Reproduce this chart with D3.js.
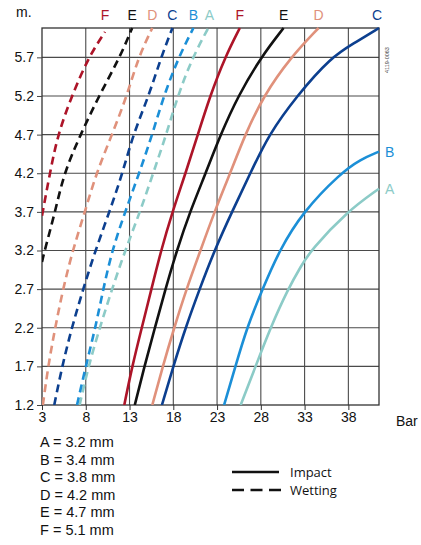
<!DOCTYPE html>
<html>
<head>
<meta charset="utf-8">
<script src="https://cdn.jsdelivr.net/npm/d3@7"></script>
<style>
  body { margin: 0; background: #fff; }
  svg { font-family: "Liberation Sans", Arial, sans-serif; }
</style>
</head>
<body>
<svg id="chart" width="421" height="545"></svg>
<script>
// Nozzle sizes
const nozzleKeys = ['A', 'B', 'C', 'D', 'E', 'F'];
const nozzleSizes = ['3.2', '3.4', '3.8', '4.2', '4.7', '5.1'];
const nozzleColors = ['#8ccbc7', '#1b8fd7', '#0c3f8f', '#e0917b', '#111111', '#ad1428'];

// Axis ticks
const xTicks = [3, 8, 13, 18, 23, 28, 33, 38];
const yTicks = [1.2, 1.7, 2.2, 2.7, 3.2, 3.7, 4.2, 4.7, 5.2, 5.7];

// Impact curves: [bar, m]
const impactA = [[25.7, 1.2], [27.4, 1.7], [29.1, 2.2], [31.1, 2.7], [32.6, 3.0], [33.7, 3.2], [37.8, 3.7], [41.5, 4.0]];
const impactB = [[23.8, 1.2], [25.1, 1.7], [26.4, 2.2], [28.2, 2.7], [30.1, 3.2], [32.8, 3.7], [37.1, 4.2], [39.4, 4.38], [41.5, 4.48]];
const impactC = [[16.7, 1.2], [18.0, 1.7], [19.4, 2.2], [21.0, 2.7], [22.7, 3.2], [24.7, 3.7], [26.8, 4.2], [28.9, 4.7], [32.1, 5.2], [36.0, 5.7], [38.6, 5.88], [41.5, 6.08]];
const impactD = [[15.6, 1.2], [16.8, 1.7], [18.1, 2.2], [19.5, 2.7], [21.1, 3.2], [22.7, 3.7], [24.5, 4.2], [26.2, 4.7], [28.3, 5.2], [31.4, 5.7], [34.6, 6.08]];
const impactE = [[13.6, 1.2], [14.7, 1.7], [15.9, 2.2], [17.1, 2.7], [18.4, 3.2], [19.9, 3.7], [21.7, 4.2], [23.4, 4.7], [25.4, 5.2], [28.0, 5.7], [30.6, 6.08]];
const impactF = [[12.4, 1.2], [13.3, 1.7], [14.4, 2.2], [15.5, 2.7], [16.6, 3.2], [17.9, 3.7], [19.4, 4.2], [20.8, 4.7], [22.2, 5.2], [23.9, 5.7], [25.6, 6.08]];

// Wetting curves: [bar, m]
const wettingA = [[7.3, 1.2], [8.3, 1.7], [9.6, 2.2], [11.0, 2.7], [12.5, 3.2], [14.2, 3.7], [15.7, 4.2], [17.2, 4.7], [18.5, 5.2], [20.2, 5.7], [22.0, 6.08]];
const wettingB = [[7.0, 1.2], [8.0, 1.7], [9.1, 2.2], [10.0, 2.7], [11.0, 3.2], [12.5, 3.7], [14.1, 4.2], [15.6, 4.7], [16.9, 5.2], [18.6, 5.7], [20.3, 6.08]];
const wettingC = [[4.4, 1.2], [5.3, 1.7], [6.4, 2.2], [7.7, 2.7], [9.1, 3.2], [10.7, 3.7], [12.2, 4.2], [13.4, 4.7], [15.2, 5.2], [16.6, 5.7], [17.9, 6.08]];
const wettingD = [[3.1, 1.2], [3.7, 1.7], [4.5, 2.2], [5.4, 2.7], [6.5, 3.2], [7.9, 3.7], [9.2, 4.2], [11.0, 4.7], [12.7, 5.2], [14.0, 5.7], [15.6, 6.08]];
const wettingE = [[3.0, 3.05], [3.3, 3.2], [4.5, 3.7], [5.5, 4.2], [7.4, 4.7], [9.5, 5.2], [11.9, 5.7], [13.3, 6.08]];
const wettingF = [[3.0, 3.65], [3.9, 4.2], [4.8, 4.7], [6.4, 5.2], [8.3, 5.7], [10.2, 6.03]];

const impactSeries = [impactA, impactB, impactC, impactD, impactE, impactF];
const wettingSeries = [wettingA, wettingB, wettingC, wettingD, wettingE, wettingF];

const svg = d3.select('#chart');
const plot = { left: 42, right: 379, top: 28, bottom: 405 };

const x = d3.scaleLinear().domain([3, 41.5]).range([plot.left, plot.right]);
const y = d3.scaleLinear().domain([1.2, 6.08]).range([plot.bottom, plot.top]);

// Grid
const grid = svg.append('g').attr('stroke', '#4a4a4a').attr('stroke-width', 1.1);
xTicks.slice(1).forEach(t => {
    grid.append('line').attr('x1', x(t)).attr('x2', x(t)).attr('y1', plot.top).attr('y2', plot.bottom);
});
yTicks.slice(1).forEach(t => {
    grid.append('line').attr('x1', plot.left).attr('x2', plot.right).attr('y1', y(t)).attr('y2', y(t));
});
svg.append('rect')
    .attr('x', plot.left).attr('y', plot.top)
    .attr('width', plot.right - plot.left).attr('height', plot.bottom - plot.top)
    .attr('fill', 'none').attr('stroke', '#333').attr('stroke-width', 1.3);

// Axes
const xAxis = svg.append('g')
    .attr('transform', `translate(0,${plot.bottom})`)
    .call(d3.axisBottom(x).tickValues(xTicks).tickSize(5).tickPadding(2).tickFormat(d3.format('d')));
xAxis.select('.domain').remove();
xAxis.selectAll('line').attr('stroke', '#333');
xAxis.selectAll('text').attr('font-size', 14).attr('fill', '#111')
    .attr('font-family', '"Liberation Sans", Arial, sans-serif');

const yAxis = svg.append('g')
    .attr('transform', `translate(${plot.left},0)`)
    .call(d3.axisLeft(y).tickValues(yTicks).tickSize(5).tickPadding(3).tickFormat(d3.format('.1f')));
yAxis.select('.domain').remove();
yAxis.selectAll('line').attr('stroke', '#444');
yAxis.selectAll('text').attr('font-size', 14).attr('fill', '#111')
    .attr('font-family', '"Liberation Sans", Arial, sans-serif');

svg.append('text').attr('x', 16).attr('y', 17).attr('font-size', 14).attr('fill', '#111').text('m.');
svg.append('text').attr('x', 396).attr('y', 426).attr('font-size', 14).attr('fill', '#111').text('Bar');

// Curves
svg.append('clipPath').attr('id', 'clip').append('rect')
    .attr('x', plot.left).attr('y', plot.top - 2)
    .attr('width', plot.right - plot.left + 1).attr('height', plot.bottom - plot.top + 2);

const line = d3.line()
    .x(d => x(d[0]))
    .y(d => y(d[1]))
    .curve(d3.curveBasis);

const curves = svg.append('g').attr('clip-path', 'url(#clip)');
wettingSeries.forEach((s, i) => {
    curves.append('path').datum(s).attr('d', line)
        .attr('fill', 'none').attr('stroke', nozzleColors[i])
        .attr('stroke-width', 2.6).attr('stroke-dasharray', '8,5');
});
impactSeries.forEach((s, i) => {
    curves.append('path').datum(s).attr('d', line)
        .attr('fill', 'none').attr('stroke', nozzleColors[i])
        .attr('stroke-width', 2.6);
});

// Curve labels
const labels = svg.append('g').attr('font-size', 14);
nozzleKeys.forEach((k, i) => {
    const w = wettingSeries[i][wettingSeries[i].length - 1];
    labels.append('text').attr('x', x(w[0]) + (k === 'A' ? 1 : 0)).attr('y', 20)
        .attr('text-anchor', 'middle').attr('fill', nozzleColors[i]).text(k);
    const p = impactSeries[i][impactSeries[i].length - 1];
    if (p[1] > 5.9) {
        labels.append('text').attr('x', x(p[0]) + (p[0] > 40 ? -2 : 0)).attr('y', 20)
            .attr('text-anchor', 'middle').attr('fill', nozzleColors[i]).text(k);
    } else {
        labels.append('text').attr('x', x(p[0]) + 6).attr('y', y(p[1]) + 5)
            .attr('fill', nozzleColors[i]).text(k);
    }
});

// Drawing number
svg.append('text')
    .attr('transform', 'translate(389,73) rotate(-90)')
    .attr('font-size', 5.5).attr('fill', '#444').text('4119-0063');

// Nozzle size legend
const sizeLegend = svg.append('g').attr('font-size', 14.5).attr('fill', '#111');
nozzleKeys.forEach((k, i) => {
    sizeLegend.append('text').attr('x', 40).attr('y', 447 + i * 17.6)
        .text(`${k} = ${nozzleSizes[i]} mm`);
});

// Line style legend
const styleLegend = svg.append('g');
styleLegend.append('line').attr('x1', 232).attr('x2', 279).attr('y1', 472).attr('y2', 472)
    .attr('stroke', '#111').attr('stroke-width', 2.6);
styleLegend.append('line').attr('x1', 232).attr('x2', 281).attr('y1', 490).attr('y2', 490)
    .attr('stroke', '#111').attr('stroke-width', 2.6).attr('stroke-dasharray', '12,6.5');
styleLegend.append('text').attr('x', 290).attr('y', 477).attr('font-size', 13)
    .attr('font-family', '"Open Sans", sans-serif').attr('fill', '#111').text('Impact');
styleLegend.append('text').attr('x', 290).attr('y', 495).attr('font-size', 13)
    .attr('font-family', '"Open Sans", sans-serif').attr('fill', '#111').text('Wetting');
</script>
</body>
</html>
